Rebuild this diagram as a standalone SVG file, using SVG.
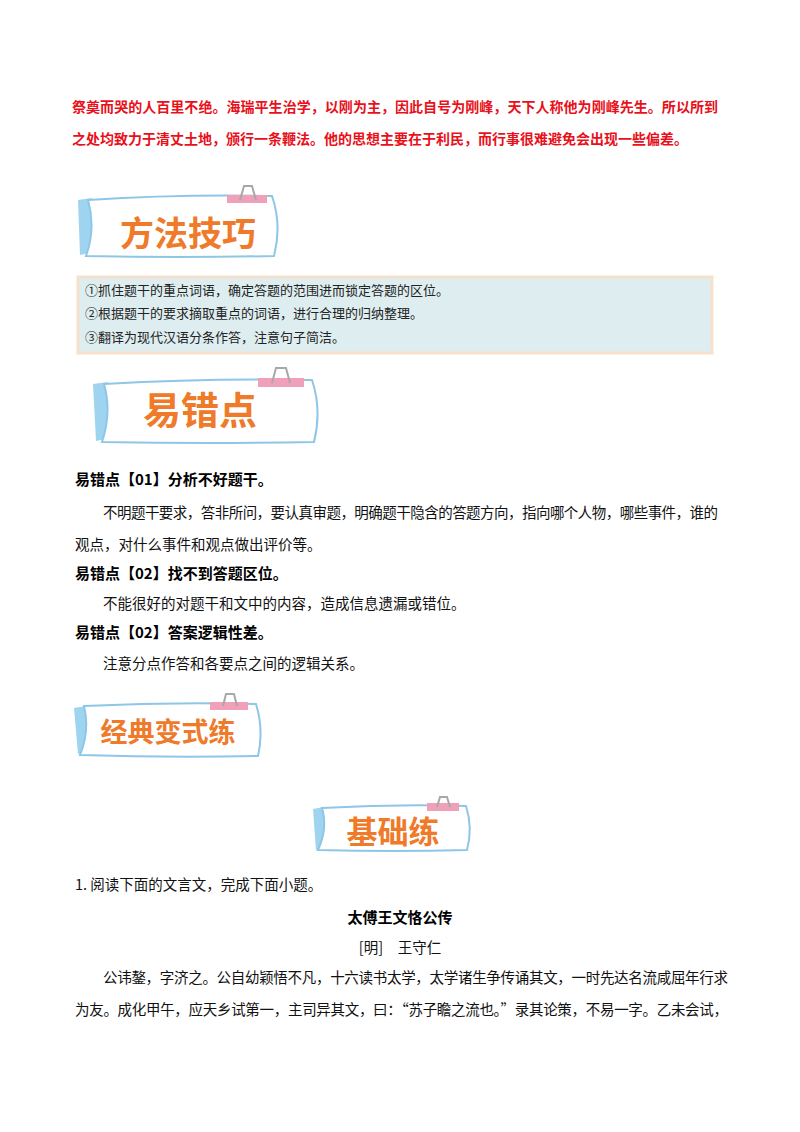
<svg xmlns="http://www.w3.org/2000/svg" width="800" height="1132" viewBox="0 0 800 1132">
<style>
.r{font-family:"Noto Sans CJK SC","Liberation Serif",serif;font-size:14px;fill:#e8101a;font-weight:bold}
.b{font-family:"Noto Sans CJK SC",serif;font-size:13px;fill:#222}
.t{font-family:"Noto Sans CJK SC",serif;font-size:14.5px;fill:#111}
.h{font-family:"Noto Sans CJK SC",serif;font-size:15px;fill:#000;font-weight:bold}
.bn{font-family:"Noto Sans CJK SC",serif;fill:#ee7a2a;font-weight:bold;text-anchor:middle}
.paper{fill:#fff;stroke:#8ec7e6;stroke-width:2}
.tab{fill:#9fd4f0}
.clip{fill:#f0a0b8}
.ring{fill:none;stroke:#a8a8a8;stroke-width:2}
</style>
<rect width="800" height="1132" fill="#fff"/>
<text class="r" x="72" y="112" textLength="646">祭奠而哭的人百里不绝。海瑞平生治学，以刚为主，因此自号为刚峰，天下人称他为刚峰先生。所以所到</text>
<text class="r" x="72" y="144">之处均致力于清丈土地，颁行一条鞭法。他的思想主要在于利民，而行事很难避免会出现一些偏差。</text>
<g id="banner1">
<path class="tab" d="M78 200 L92 198 L94 252 L80 255 Z"/>
<path class="paper" d="M88 200 Q180 194 272 196 Q282 225 274 256 Q180 258 86 256 Q96 228 88 200 Z"/>
<rect class="clip" x="227" y="195" width="40" height="8"/>
<path class="ring" d="M240 200 L244 186 L252 186 L256 200"/>
<text class="bn" x="188" y="246" font-size="34">方法技巧</text>
</g>
<g id="tipsbox">
<rect x="78" y="277" width="634" height="76" fill="#deeef0" stroke="#f6e2cc" stroke-width="3"/>
<text class="b" x="85" y="295">①抓住题干的重点词语，确定答题的范围进而锁定答题的区位。</text>
<text class="b" x="85" y="318">②根据题干的要求摘取重点的词语，进行合理的归纳整理。</text>
<text class="b" x="85" y="342">③翻译为现代汉语分条作答，注意句子简洁。</text>
</g>
<g id="banner2">
<path class="tab" d="M93 384 L108 382 L110 438 L96 441 Z"/>
<path class="paper" d="M104 384 Q210 378 312 380 Q322 410 314 442 Q210 444 102 442 Q112 412 104 384 Z"/>
<rect class="clip" x="258" y="378" width="46" height="9"/>
<path class="ring" d="M272 383 L276 368 L286 368 L290 383"/>
<text class="bn" x="200" y="424" font-size="38">易错点</text>
</g>
<text class="h" x="75" y="485">易错点【01】分析不好题干。</text>
<text class="t" x="103" y="518" textLength="615">不明题干要求，答非所问，要认真审题，明确题干隐含的答题方向，指向哪个人物，哪些事件，谁的</text>
<text class="t" x="75" y="550">观点，对什么事件和观点做出评价等。</text>
<text class="h" x="75" y="579">易错点【02】找不到答题区位。</text>
<text class="t" x="103" y="609">不能很好的对题干和文中的内容，造成信息遗漏或错位。</text>
<text class="h" x="75" y="638">易错点【02】答案逻辑性差。</text>
<text class="t" x="103" y="669">注意分点作答和各要点之间的逻辑关系。</text>
<g id="banner3">
<path class="tab" d="M74 708 L86 706 L88 752 L78 754 Z"/>
<path class="paper" d="M84 706 Q170 702 256 704 Q264 730 258 756 Q170 758 80 755 Q90 730 84 706 Z"/>
<rect class="clip" x="210" y="702" width="38" height="8"/>
<path class="ring" d="M223 706 L226 694 L234 694 L237 706"/>
<text class="bn" x="168" y="742" font-size="27">经典变式练</text>
</g>
<g id="banner4">
<path class="tab" d="M313 809 L324 807 L326 848 L316 850 Z"/>
<path class="paper" d="M322 808 Q395 804 466 806 Q473 828 467 850 Q395 852 318 850 Q328 828 322 808 Z"/>
<rect class="clip" x="427" y="803" width="32" height="8"/>
<path class="ring" d="M437 807 L440 797 L447 797 L450 807"/>
<text class="bn" x="393" y="843" font-size="31">基础练</text>
</g>
<text class="t" x="75" y="890">1. 阅读下面的文言文，完成下面小题。</text>
<text class="h" x="400" y="923" text-anchor="middle" font-size="13">太傅王文恪公传</text>
<text class="t" x="400" y="953" text-anchor="middle" font-size="13">[明]　王守仁</text>
<text class="t" x="103" y="983" textLength="625">公讳鏊，字济之。公自幼颖悟不凡，十六读书太学，太学诸生争传诵其文，一时先达名流咸屈年行求</text>
<text class="t" x="75" y="1015" textLength="653">为友。成化甲午，应天乡试第一，主司异其文，曰：“苏子瞻之流也。”录其论策，不易一字。乙未会试，</text>
</svg>
